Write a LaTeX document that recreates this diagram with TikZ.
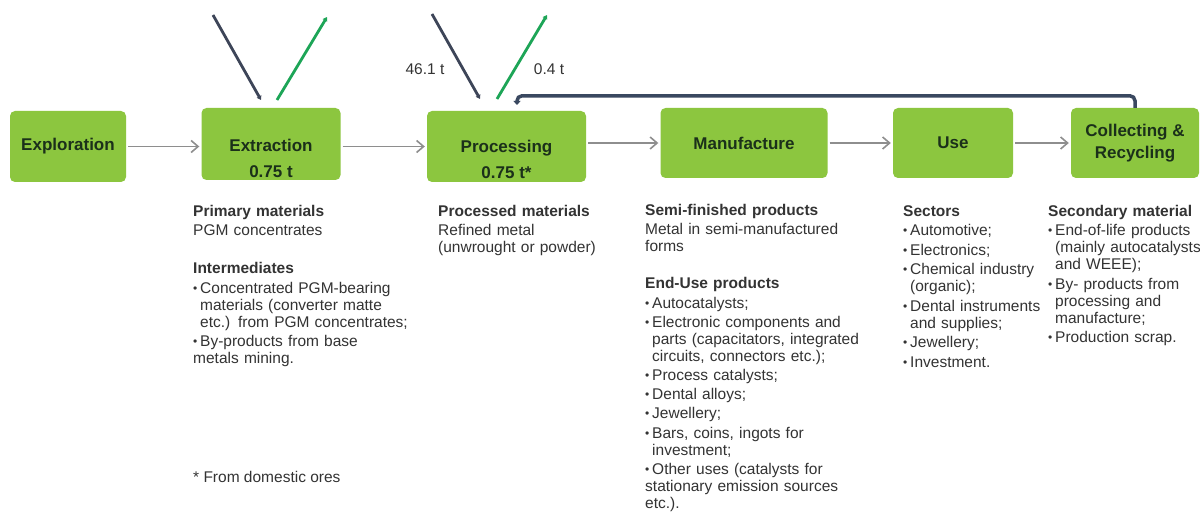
\documentclass[tikz,border=0pt]{standalone}
\usepackage{fontspec}
\setmainfont{Liberation Sans}
\usetikzlibrary{arrows.meta}
\definecolor{boxgreen}{HTML}{8CC63F}
\definecolor{labdark}{HTML}{1B301A}
\definecolor{txt}{HTML}{333333}
\definecolor{flowgray}{HTML}{8E8E8E}
\definecolor{inkdark}{HTML}{3D4558}
\definecolor{outgreen}{HTML}{1DA557}
\definecolor{fbblue}{HTML}{3A4860}
\newcommand\bul{\par\hangindent=7pt\hangafter=1\noindent\makebox[7pt][l]{\raisebox{1pt}{\fontsize{12}{12}\selectfont\textbullet}}}
\begin{document}
\begin{tikzpicture}[x=1pt,y=-1pt,
  stage/.style={fill=boxgreen,rounded corners=5pt,inner sep=0pt,minimum height=71pt,
    font=\fontsize{17}{22}\selectfont\bfseries,text=labdark,align=center},
  lab/.style={inner sep=0pt,font=\fontsize{17}{22}\selectfont\bfseries,text=labdark},
  col/.style={anchor=north west,inner sep=0pt,text width=260pt,align=left,text=txt,
    font=\fontsize{15.5}{17}\selectfont,
    execute at begin node={\setlength{\parskip}{2.5pt}\setlength{\parindent}{0pt}}},
  qty/.style={inner sep=0pt,text=txt,font=\fontsize{15.5}{17}\selectfont},
  flow/.style={draw=flowgray,line width=1.8pt,-{Straight Barb[length=7pt,width=12pt,line width=1.6pt]},shorten <=2pt,shorten >=2pt},
  inarr/.style={draw=inkdark,line width=2.8pt,-{Triangle[length=4pt,width=5pt]}},
  outarr/.style={draw=outgreen,line width=2.8pt,-{Triangle[length=4pt,width=5pt]}},
  fb/.style={draw=fbblue,line width=3.5pt,rounded corners=5pt,-{Triangle[length=4pt,width=7pt]}}]
\useasboundingbox (0,0) rectangle (1200,513);
\clip (0,0) rectangle (1200,513);
\fill[white] (0,0) rectangle (1200,513);

% stage boxes
\node[stage,minimum width=116pt] (expl) at (68,146.5) {Exploration};
\node[stage,minimum width=139pt,minimum height=72pt] (extr) at (271,144) {};
\node[lab] (extrL) at (271,145) {Extraction};
\node[lab] (extrV) at (271,172) {0.75 t};
\node[stage,minimum width=159pt] (proc) at (506.5,146.5) {};
\node[lab] (procL) at (506.5,148) {Processing};
\node[lab] (procV) at (506.5,173) {0.75 t*};
\node[stage,minimum width=167pt,minimum height=70pt] (manu) at (744,143) {Manufacture};
\node[stage,minimum width=120pt,minimum height=70pt] (use) at (953,143) {Use};
\node[stage,minimum width=128pt,minimum height=70pt] (coll) at (1135,143) {Collecting \&\\Recycling};

% main flow
\draw[flow] (expl.east) -- (expl.east -| extr.west);
\draw[flow] (proc.west -| extr.east) -- (proc.west);
\draw[flow] (manu.west -| proc.east) -- (manu.west);
\draw[flow] (manu.east) -- (use.west);
\draw[flow] (use.east) -- (coll.west);

% imports / exports
\coordinate (d1s) at (213,15);
\coordinate (d1e) at (261,100);
\coordinate (g1s) at (277,100);
\coordinate (g1e) at (327,17);
\coordinate (d2s) at (432,14);
\coordinate (d2e) at (480,99);
\coordinate (g2s) at (497,99);
\coordinate (g2e) at (547,15);
\draw[inarr] (d1s) -- (d1e);
\draw[outarr] (g1s) -- (g1e);
\draw[inarr] (d2s) -- (d2e);
\draw[outarr] (g2s) -- (g2e);
\node[qty] (q1) at (425,69) {46.1 t};
\node[qty] (q2) at (549,69) {0.4 t};

% recycling feedback
\coordinate (fbend) at (517,105);
\draw[fb] (coll.north) -- ++(0,-12) -| (fbend);

% text columns
\node[col] (tA) at (193,205) {\textbf{Primary materials}\par PGM concentrates\par\vspace{18.5pt}\textbf{Intermediates}\bul Concentrated PGM-bearing\newline materials (converter matte\newline etc.) from PGM concentrates;\bul By-products from base\newline metals mining.};
\node[col] (tB) at (438,205) {\textbf{Processed materials}\par Refined metal\newline (unwrought or powder)};
\node[col,execute at begin node={\setlength{\parskip}{2.2pt}\setlength{\parindent}{0pt}}] (tC) at (645,204) {\textbf{Semi-finished products}\par Metal in semi-manufactured\newline forms\par\vspace{18pt}\textbf{End-Use products}\bul Autocatalysts;\bul Electronic components and\newline parts (capacitators, integrated\newline circuits, connectors etc.);\bul Process catalysts;\bul Dental alloys;\bul Jewellery;\bul Bars, coins, ingots for\newline investment;\bul Other uses (catalysts for\newline stationary emission sources\newline etc.).};
\node[col] (tD) at (903,205) {\textbf{Sectors}\bul Automotive;\bul Electronics;\bul Chemical industry\newline (organic);\bul Dental instruments\newline and supplies;\bul Jewellery;\bul Investment.};
\node[col] (tE) at (1048,205) {\textbf{Secondary material}\bul End-of-life products\newline (mainly autocatalysts\newline and WEEE);\bul By- products from\newline processing and\newline manufacture;\bul Production scrap.};
\node[qty,anchor=base west] (fn) at (193,482) {* From domestic ores};
\end{tikzpicture}
\end{document}
